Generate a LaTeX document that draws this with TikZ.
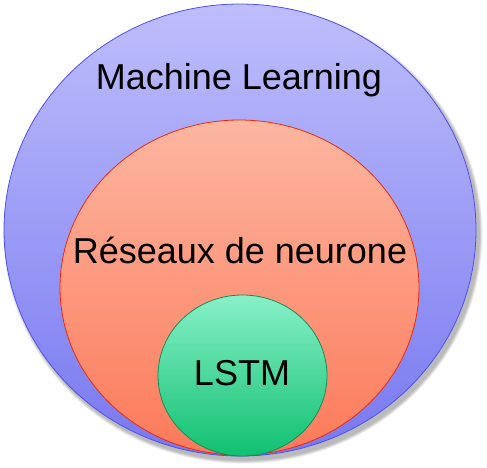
\documentclass[tikz,border=0pt]{standalone}
\usepackage{fontspec}
\setmainfont{Liberation Sans}
\usetikzlibrary{shapes.geometric}
\begin{document}
\begin{tikzpicture}[x=1pt,y=-1pt,
  lbl/.style={font=\fontsize{36}{40}\selectfont, text=black},
  blob/.style={ellipse, inner sep=0pt, line width=0.8pt}]
\useasboundingbox (0,0) rectangle (487,467);
% soft shadow
\foreach \i in {1,...,6}{
  \fill[black, opacity=0.05] (243,234) ellipse ({236+0.6*\i} and {226+0.6*\i});
}
\node[blob, draw={rgb,255:red,80;green,80;blue,240}, top color={rgb,255:red,190;green,190;blue,252}, bottom color={rgb,255:red,120;green,120;blue,240}, minimum width=472, minimum height=452] (ml) at (240,230) {};
\node[blob, draw={rgb,255:red,240;green,40;blue,10}, top color={rgb,255:red,252;green,182;blue,160}, bottom color={rgb,255:red,252;green,122;blue,90}, minimum width=359, minimum height=335] (nn) at (239.5,287.5) {};
\node[blob, draw={rgb,255:red,20;green,140;blue,90}, top color={rgb,255:red,136;green,240;blue,200}, bottom color={rgb,255:red,16;green,192;blue,112}, minimum width=169, minimum height=161] (lstm) at (242.5,375.5) {};
\node[lbl] (tml) at (239,80) {Machine Learning};
\node[lbl] (tnn) at (240,250) {Réseaux de neurone};
\node[lbl] (tlstm) at (242,373) {LSTM};
\end{tikzpicture}
\end{document}
